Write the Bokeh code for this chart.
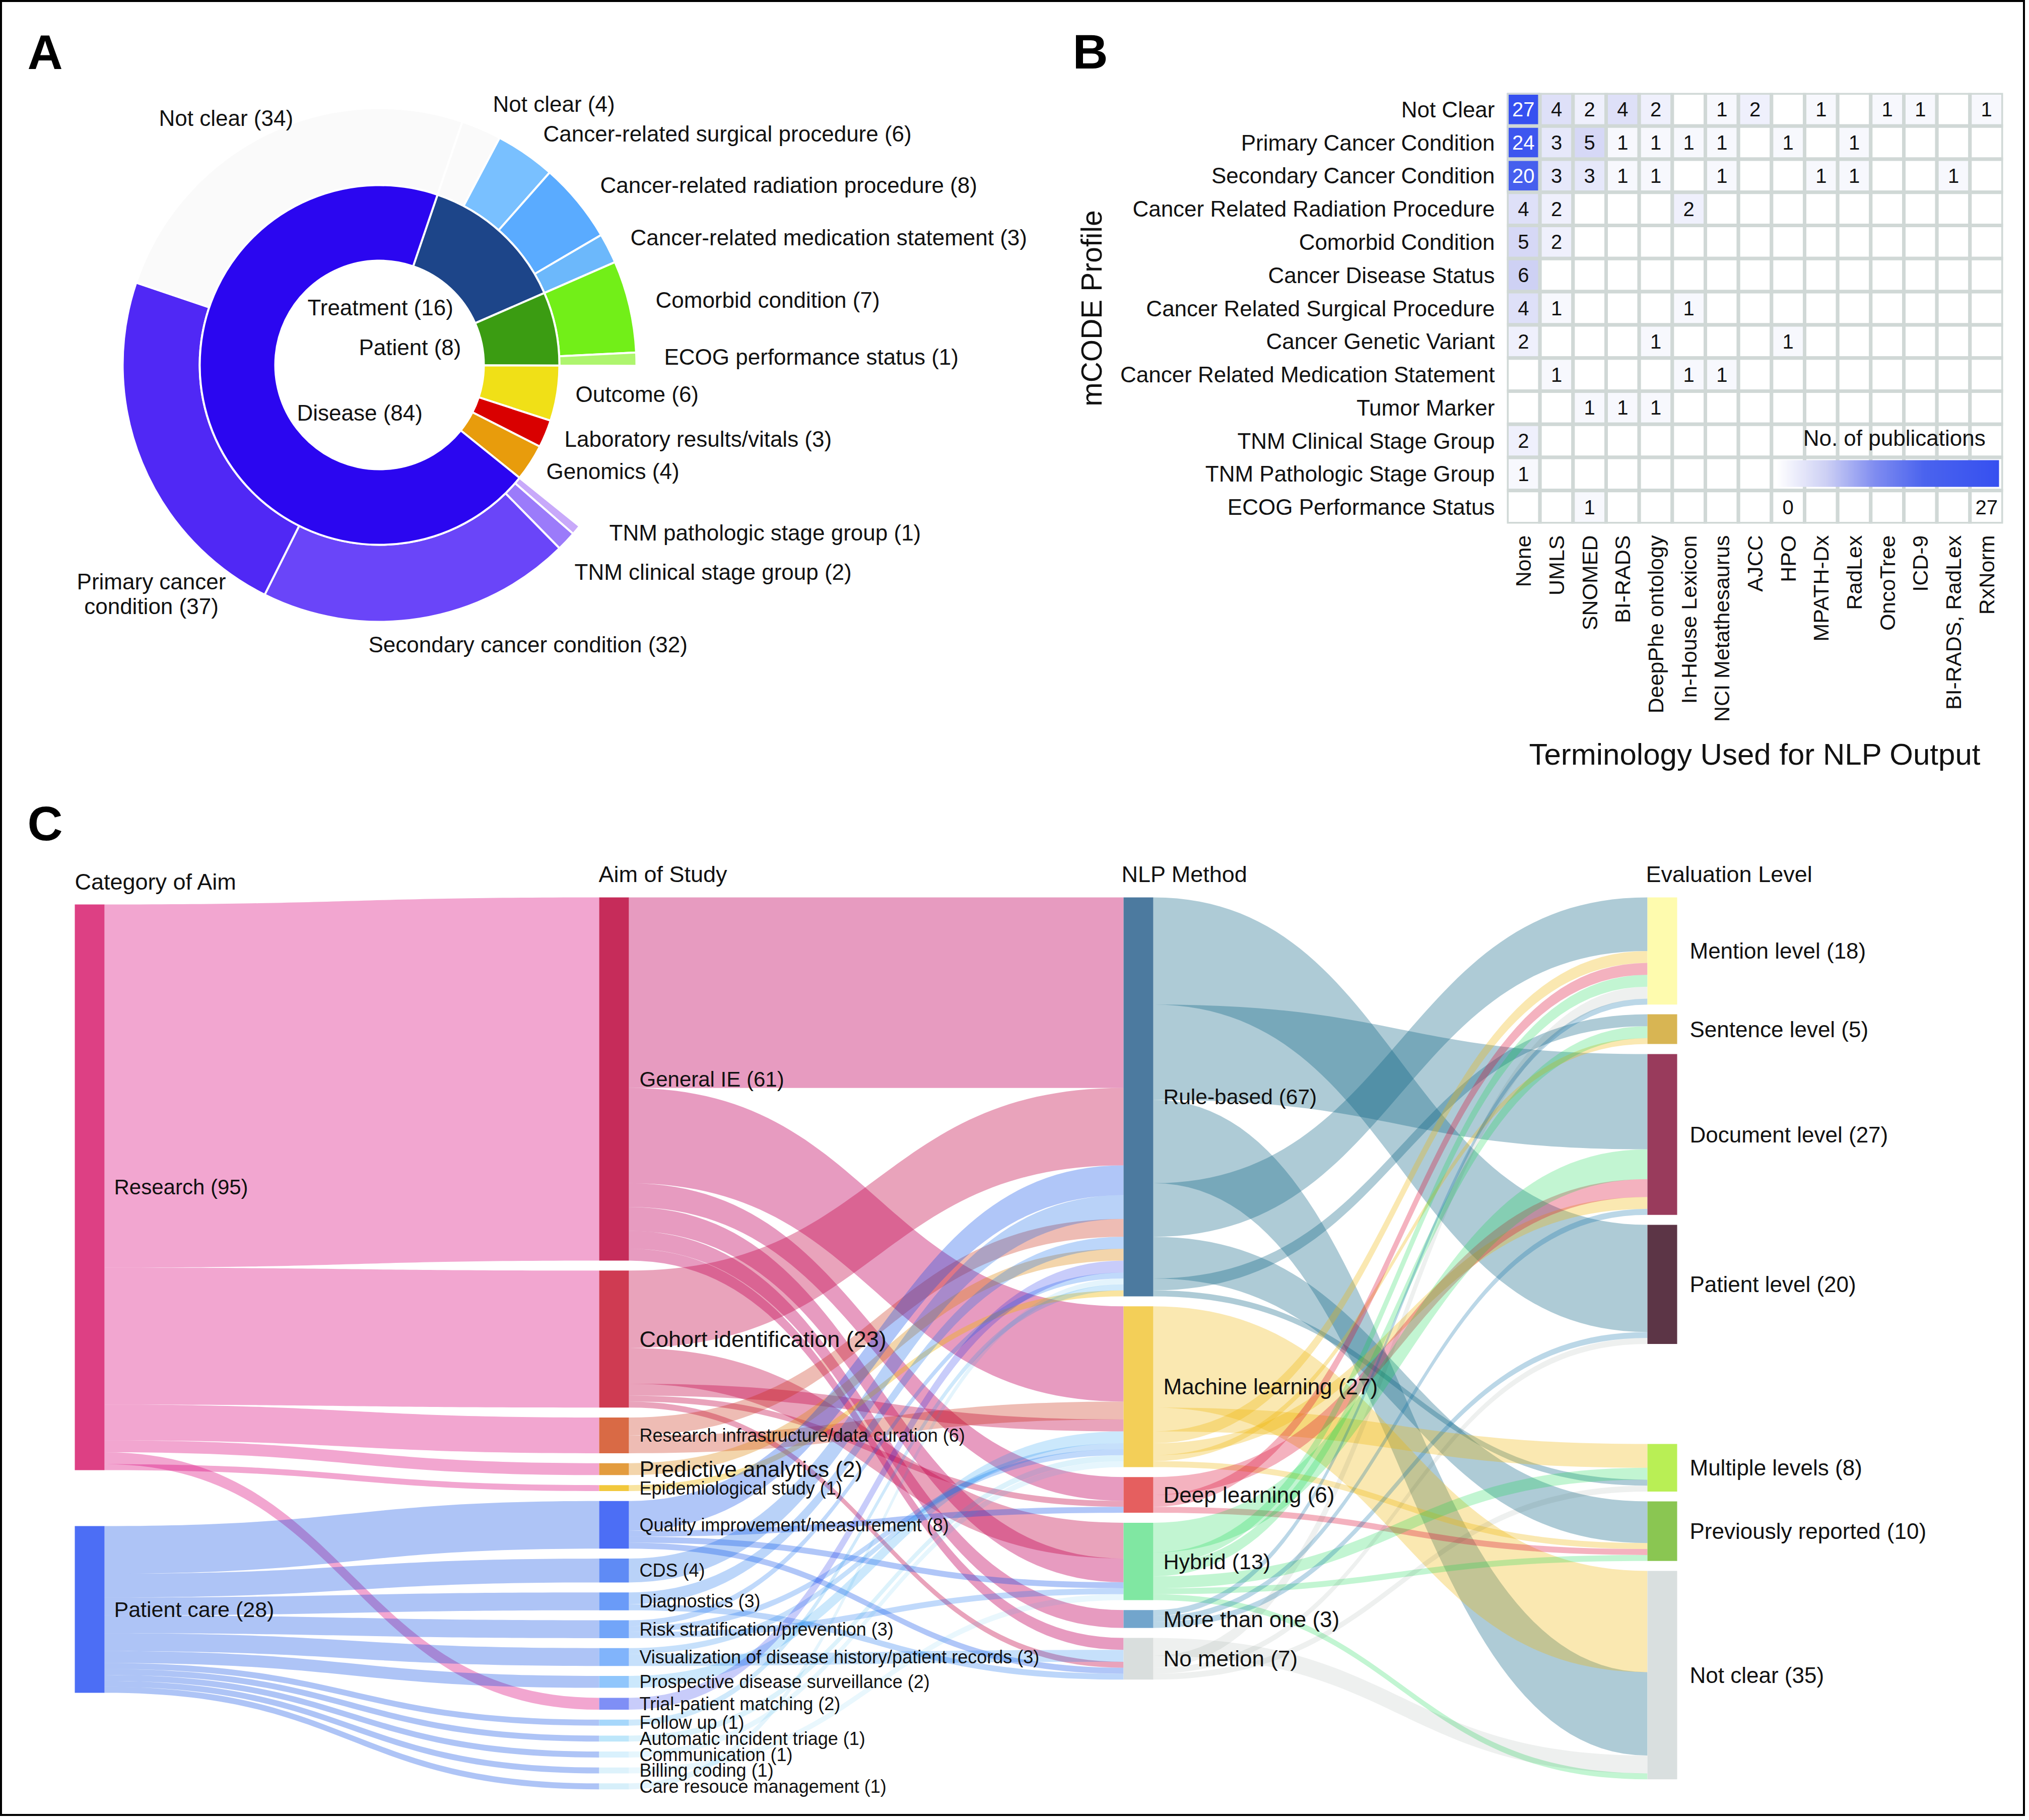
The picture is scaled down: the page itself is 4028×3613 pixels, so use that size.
import math
import numpy as np
from bokeh.plotting import figure
from bokeh.layouts import column, row
from bokeh.models import (ColumnDataSource, Range1d, FactorRange, LinearColorMapper, ColorBar,
                          FixedTicker)
from bokeh.core.properties import value
from bokeh.embed import file_html
from bokeh.resources import INLINE

FONT = "Liberation Sans"

# ---------- Panel A data ----------
inner_names = ["Treatment", "Patient", "Outcome", "Laboratory results/vitals", "Genomics", "Disease"]
inner_values = [16, 8, 6, 3, 4, 84]
inner_colors = ["#1d4589", "#3b9c12", "#f0e017", "#d90000", "#e89c0c", "#2b06f0"]
outer_names = ["Not clear (T)", "Cancer-related surgical procedure", "Cancer-related radiation procedure",
               "Cancer-related medication statement", "Comorbid condition", "ECOG performance status",
               "TNM pathologic stage group", "TNM clinical stage group", "Secondary cancer condition",
               "Primary cancer condition", "Not clear (D)"]
outer_parent = ["Treatment", "Treatment", "Treatment", "Treatment", "Patient", "Patient",
                "Disease", "Disease", "Disease", "Disease", "Disease"]
# share of the parent's arc
outer_values = [4, 6, 8, 3, 7, 1, 1, 2, 32, 37, 40.6]
outer_colors = ["#fafafa", "#79c0ff", "#5aabff", "#6cb8fb", "#72ef18", "#aef56e",
                "#c8a9fa", "#9b7bfa", "#6a45f9", "#5028f5", "#fafafa"]
a_labels = ["Not clear (34)", "Not clear (4)", "Cancer-related surgical procedure (6)",
            "Cancer-related radiation procedure (8)", "Cancer-related medication statement (3)",
            "Comorbid condition (7)", "ECOG performance status (1)", "Outcome (6)",
            "Laboratory results/vitals (3)", "Genomics (4)", "TNM pathologic stage group (1)",
            "TNM clinical stage group (2)", "Secondary cancer condition (32)",
            "Treatment (16)", "Patient (8)", "Disease (84)"]
a_label_x = [315, 978, 1078, 1191, 1251, 1301, 1318, 1142, 1120, 1084, 1209, 1140, 731, 610, 712, 589]
a_label_y = [234, 206, 265, 367, 471, 595, 708, 782, 871, 935, 1057, 1135, 1279, 610, 689, 819]

# ---------- Panel B data ----------
b_rows = ["Not Clear", "Primary Cancer Condition", "Secondary Cancer Condition",
          "Cancer Related Radiation Procedure", "Comorbid Condition", "Cancer Disease Status",
          "Cancer Related Surgical Procedure", "Cancer Genetic Variant",
          "Cancer Related Medication Statement", "Tumor Marker", "TNM Clinical Stage Group",
          "TNM Pathologic Stage Group", "ECOG Performance Status"]
b_cols = ["None", "UMLS", "SNOMED", "BI-RADS", "DeepPhe ontology", "In-House Lexicon", "NCI Metathesaurus",
          "AJCC", "HPO", "MPATH-Dx", "RadLex", "OncoTree", "ICD-9", "BI-RADS, RadLex", "RxNorm"]
b_matrix = [
    [27, 4, 2, 4, 2, 0, 1, 2, 0, 1, 0, 1, 1, 0, 1],
    [24, 3, 5, 1, 1, 1, 1, 0, 1, 0, 1, 0, 0, 0, 0],
    [20, 3, 3, 1, 1, 0, 1, 0, 0, 1, 1, 0, 0, 1, 0],
    [4, 2, 0, 0, 0, 2, 0, 0, 0, 0, 0, 0, 0, 0, 0],
    [5, 2, 0, 0, 0, 0, 0, 0, 0, 0, 0, 0, 0, 0, 0],
    [6, 0, 0, 0, 0, 0, 0, 0, 0, 0, 0, 0, 0, 0, 0],
    [4, 1, 0, 0, 0, 1, 0, 0, 0, 0, 0, 0, 0, 0, 0],
    [2, 0, 0, 0, 1, 0, 0, 0, 1, 0, 0, 0, 0, 0, 0],
    [0, 1, 0, 0, 0, 1, 1, 0, 0, 0, 0, 0, 0, 0, 0],
    [0, 0, 1, 1, 1, 0, 0, 0, 0, 0, 0, 0, 0, 0, 0],
    [2, 0, 0, 0, 0, 0, 0, 0, 0, 0, 0, 0, 0, 0, 0],
    [1, 0, 0, 0, 0, 0, 0, 0, 0, 0, 0, 0, 0, 0, 0],
    [0, 0, 1, 0, 0, 0, 0, 0, 0, 0, 0, 0, 0, 0, 0],
]
scale_stops = [0, 6, 12, 18, 27]
scale_colors = ["#ffffff", "#cdd0f4", "#7f8cf0", "#4a63ee", "#3650f0"]

# ---------- Panel C data ----------
cat_names = ["Research", "Patient care"]
cat_values = [95, 28]
cat_colors = ["#dd4084", "#4c6ef5"]
cat_link_colors = ["#f2a7d0", "#aec4f6"]

aim_names = ["General IE", "Cohort identification", "Research infrastructure/data curation", "Predictive analytics",
             "Epidemiological study", "Quality improvement/measurement", "CDS", "Diagnostics",
             "Risk stratification/prevention", "Visualization of disease history/patient records",
             "Prospective disease surveillance", "Trial-patient matching", "Follow up",
             "Automatic incident triage", "Communication", "Billing coding", "Care resouce management"]
aim_values = [61, 23, 6, 2, 1, 8, 4, 3, 3, 3, 2, 2, 1, 1, 1, 1, 1]
aim_colors = ["#c62c5a", "#cf3b52", "#d96a45", "#e39c3e", "#f2c83c", "#4c6ef5", "#5f8bf5", "#6a9bf8", "#72a5f9",
              "#81b4fb", "#90c6fc", "#7f8ff6", "#a6d7fb", "#bde6fa", "#d9f1fd", "#ddf2fb", "#d6effa"]
aim_link_colors = ["#e79cc0", "#e9a3bb", "#eebcb5", "#f3d5ab", "#f9e4a0", "#b0c6f8", "#b9d2f8", "#bdd6fa", "#c0d9fb",
                   "#c6e0fb", "#cbe8fc", "#c8ccfa", "#cfe9fb", "#dcf2fb", "#e6f6fd", "#e9f7fd", "#e4f4fc"]
aim_font = [42, 45, 36, 44, 36, 36, 36, 36, 36, 36, 36, 36, 36, 36, 36, 36, 36]

method_names = ["Rule-based", "Machine learning", "Deep learning", "Hybrid", "More than one", "No metion"]
method_values = [67, 27, 6, 13, 3, 7]
method_colors = ["#4c7a9f", "#f3cf58", "#e55f5f", "#80e7a2", "#72a5cc", "#d9dedd"]
method_link_colors = ["#aecbd6", "#fae8b1", "#f4b3bf", "#c3f5d2", "#bcd7e7", "#eef0ef"]

eval_names = ["Mention level", "Sentence level", "Document level", "Patient level",
              "Multiple levels", "Previously reported", "Not clear"]
eval_values = [18, 5, 27, 20, 8, 10, 35]
eval_colors = ["#fefbae", "#d8b553", "#993b5c", "#5c3546", "#b9ef55", "#8ac652", "#d9dfdf"]

cat_out = {
    "Research": [("General IE", 61), ("Cohort identification", 23), ("Research infrastructure/data curation", 6),
                 ("Predictive analytics", 2), ("Trial-patient matching", 2), ("Epidemiological study", 1)],
    "Patient care": [("Quality improvement/measurement", 8), ("CDS", 4), ("Diagnostics", 3),
                     ("Risk stratification/prevention", 3), ("Visualization of disease history/patient records", 3),
                     ("Prospective disease surveillance", 2), ("Follow up", 1), ("Automatic incident triage", 1),
                     ("Communication", 1), ("Billing coding", 1), ("Care resouce management", 1)],
}
aim_out = {
    "General IE": [("Rule-based", 32), ("Machine learning", 16), ("Deep learning", 4), ("Hybrid", 4),
                   ("More than one", 3), ("No metion", 2)],
    "Cohort identification": [("Rule-based", 13), ("Hybrid", 6), ("Machine learning", 2), ("Deep learning", 1),
                              ("No metion", 1)],
    "Research infrastructure/data curation": [("Rule-based", 3), ("Machine learning", 3)],
    "Predictive analytics": [("Rule-based", 2)],
    "Epidemiological study": [("Rule-based", 1)],
    "Quality improvement/measurement": [("Rule-based", 5), ("Deep learning", 1), ("Hybrid", 1), ("No metion", 1)],
    "CDS": [("Rule-based", 4)],
    "Diagnostics": [("Rule-based", 2), ("No metion", 1)],
    "Risk stratification/prevention": [("Rule-based", 1), ("Machine learning", 1), ("Hybrid", 1)],
    "Visualization of disease history/patient records": [("Machine learning", 1), ("No metion", 2)],
    "Prospective disease surveillance": [("Machine learning", 2)],
    "Trial-patient matching": [("Rule-based", 2)],
    "Follow up": [("Rule-based", 1)],
    "Automatic incident triage": [("Machine learning", 1)],
    "Communication": [("Machine learning", 1)],
    "Billing coding": [("Hybrid", 1)],
    "Care resouce management": [("Rule-based", 1)],
}
method_in_order = {
    "Rule-based": ["General IE", "Cohort identification", "Quality improvement/measurement", "CDS",
                   "Research infrastructure/data curation", "Diagnostics", "Predictive analytics",
                   "Trial-patient matching", "Risk stratification/prevention", "Care resouce management",
                   "Follow up", "Epidemiological study"],
    "Machine learning": ["General IE", "Research infrastructure/data curation", "Cohort identification",
                         "Prospective disease surveillance", "Visualization of disease history/patient records",
                         "Risk stratification/prevention", "Automatic incident triage", "Communication"],
    "Deep learning": ["General IE", "Cohort identification", "Quality improvement/measurement"],
    "Hybrid": ["Cohort identification", "General IE", "Quality improvement/measurement",
               "Risk stratification/prevention", "Billing coding"],
    "More than one": ["General IE"],
    "No metion": ["General IE", "Visualization of disease history/patient records", "Cohort identification",
                  "Quality improvement/measurement", "Diagnostics"],
}
method_out = {
    "Rule-based": [("Patient level", 18), ("Document level", 16), ("Not clear", 14), ("Mention level", 9),
                   ("Previously reported", 7), ("Sentence level", 2), ("Multiple levels", 1)],
    "Machine learning": [("Not clear", 17), ("Multiple levels", 4), ("Mention level", 2), ("Document level", 2),
                         ("Sentence level", 1), ("Previously reported", 1)],
    "Deep learning": [("Document level", 3), ("Mention level", 2), ("Previously reported", 1)],
    "Hybrid": [("Document level", 5), ("Mention level", 2), ("Sentence level", 2), ("Multiple levels", 2),
               ("Previously reported", 1), ("Not clear", 1)],
    "More than one": [("Mention level", 1), ("Document level", 1), ("Patient level", 1)],
    "No metion": [("Not clear", 3), ("Mention level", 2), ("Patient level", 1), ("Multiple levels", 1)],
}
eval_in_order = {
    "Mention level": ["Rule-based", "Machine learning", "Deep learning", "Hybrid", "No metion", "More than one"],
    "Sentence level": ["Rule-based", "Hybrid", "Machine learning"],
    "Document level": ["Rule-based", "Hybrid", "Deep learning", "Machine learning", "More than one"],
    "Patient level": ["Rule-based", "More than one", "No metion"],
    "Multiple levels": ["Machine learning", "Hybrid", "Rule-based", "No metion"],
    "Previously reported": ["Rule-based", "Machine learning", "Deep learning", "Hybrid"],
    "Not clear": ["Machine learning", "Rule-based", "No metion", "Hybrid"],
}

# ---------- layout constants (reference pixels) ----------
PAGE_L, PAGE_T, PAGE_R, PAGE_B = 4, 4, 4016, 3601
SPLIT_X, SPLIT_Y = 2050, 1560
HEAD_B = 160
CX, CY, R0, R1, R2 = 753, 724, 207, 357, 510
START_DEG = 18.8
GRID_L, GRID_R, GRID_T, GRID_B = 2991, 3976, 184, 1039
UNIT = 11.82
NODE_W = 59
GAP = 19.8
X_CAT, X_AIM, X_METHOD, X_EVAL = 148, 1189, 2230, 3270
TOP_ALL = 1781
CAT_TOPS = [1795, 3029]
EVAL_TOPS = [1781, 2013, 2092, 2431, 2866, 2980, 3118]


def px(size):
    return value(f"{size}px")


def blank(x0, x1, y0, y1, w, h):
    p = figure(width=w, height=h, x_range=Range1d(x0, x1), y_range=Range1d(y0, y1), x_axis_location=None,
               y_axis_location=None, toolbar_location=None, output_backend="svg", min_border=0,
               outline_line_color=None, background_fill_color="white", border_fill_color="white", frame_align=False)
    p.grid.visible = False
    return p


# ---------- Panel A ----------
pa = blank(PAGE_L, SPLIT_X, -SPLIT_Y, -PAGE_T, SPLIT_X - PAGE_L, SPLIT_Y - PAGE_T)
deg_per = 360.0 / sum(inner_values)
spans = {}
angle = START_DEG
i_start, i_end = [], []
for n, v in zip(inner_names, inner_values):
    i_start.append(angle)
    angle += v * deg_per
    i_end.append(angle)
    spans[n] = (i_start[-1], i_end[-1])
o_start, o_end = [], []
for parent in dict.fromkeys(outer_parent):
    idx = [i for i, q in enumerate(outer_parent) if q == parent]
    total = sum(outer_values[i] for i in idx)
    a0, a1 = spans[parent]
    cur = a0
    for i in idx:
        o_start.append(cur)
        cur += outer_values[i] / total * (a1 - a0)
        o_end.append(cur)


def to_rad(d):
    return [math.pi / 2 - math.radians(a) for a in d]


pa.annular_wedge(x=[CX] * len(o_start), y=[-CY] * len(o_start), inner_radius=R1, outer_radius=R2,
                 start_angle=to_rad(o_start), end_angle=to_rad(o_end), direction="clock",
                 fill_color=outer_colors, line_color="white", line_width=4)
pa.annular_wedge(x=[CX] * len(i_start), y=[-CY] * len(i_start), inner_radius=R0, outer_radius=R1,
                 start_angle=to_rad(i_start), end_angle=to_rad(i_end), direction="clock",
                 fill_color=inner_colors, line_color="white", line_width=4)
pa.text(x=a_label_x, y=[-v for v in a_label_y], text=a_labels, text_font=value(FONT), text_font_size=px(44),
        text_baseline="middle", text_align="left", text_color="#111111")
pa.text(x=[300, 300], y=[-1154, -1203], text=["Primary cancer", "condition (37)"], text_font=value(FONT),
        text_font_size=px(44), text_baseline="middle", text_align="center", text_color="#111111")
pa.text(x=[54], y=[-103], text=["A"], text_font=value(FONT), text_font_size=px(97), text_font_style="bold",
        text_baseline="middle", text_align="left", text_color="#000000")

# ---------- Panel B ----------
phead = blank(SPLIT_X, PAGE_R, -HEAD_B, -PAGE_T, PAGE_R - SPLIT_X, HEAD_B - PAGE_T)
phead.text(x=[2164], y=[-102], text=["B"], text_font=value(FONT), text_font_size=px(97), text_font_style="bold",
           text_baseline="middle", text_align="center", text_color="#000000")

stops_rgb = [[int(c[i:i + 2], 16) for i in (1, 3, 5)] for c in scale_colors]
levels = np.linspace(0, 27, 256)
palette = ["#%02x%02x%02x" % tuple(int(round(np.interp(l, scale_stops, [s[k] for s in stops_rgb]))) for k in range(3))
           for l in levels]
mapper = LinearColorMapper(palette=palette, low=0, high=27)

cell_x, cell_y, cell_n = [], [], []
for r, vals in zip(b_rows, b_matrix):
    for c, v in zip(b_cols, vals):
        cell_x.append(c)
        cell_y.append(r)
        cell_n.append(v)
src = ColumnDataSource(dict(x=cell_x, y=cell_y, n=cell_n))

pb = figure(width=PAGE_R - SPLIT_X, height=SPLIT_Y - HEAD_B, x_range=FactorRange(factors=b_cols),
            y_range=FactorRange(factors=list(reversed(b_rows))), toolbar_location=None, output_backend="svg",
            min_border_left=GRID_L - SPLIT_X, min_border_right=PAGE_R - GRID_R, min_border_top=GRID_T - HEAD_B,
            min_border_bottom=SPLIT_Y - GRID_B, outline_line_color=None, border_fill_color="white", frame_align=False)
pb.grid.visible = False
pb.rect(x="x", y="y", width=1, height=1, source=src, fill_color={"field": "n", "transform": mapper},
        line_color="#d0d8d6", line_width=7)
nz = [i for i, v in enumerate(cell_n) if v > 0]
pb.text(x=[cell_x[i] for i in nz], y=[cell_y[i] for i in nz], text=[str(cell_n[i]) for i in nz],
        text_color=["white" if cell_n[i] >= 20 else "#111111" for i in nz], text_font=value(FONT),
        text_font_size=px(40), text_align="center", text_baseline="middle")
for ax in (pb.xaxis[0], pb.yaxis[0]):
    ax.axis_line_color = None
    ax.major_tick_line_color = None
    ax.minor_tick_line_color = None
    ax.major_label_text_font = FONT
    ax.major_label_text_font_size = "44px"
    ax.major_label_text_color = "#111111"
    ax.axis_label_text_font = FONT
    ax.axis_label_text_font_style = "normal"
    ax.axis_label_text_color = "#111111"
pb.xaxis[0].major_label_orientation = math.pi / 2
pb.xaxis[0].major_label_text_font_size = "43px"
pb.xaxis[0].major_label_standoff = 17
pb.yaxis[0].major_label_standoff = 18
pb.xaxis[0].axis_label = "Terminology Used for NLP Output"
pb.xaxis[0].axis_label_text_font_size = "60px"
pb.xaxis[0].axis_label_standoff = 28
pb.yaxis[0].axis_label = "mCODE Profile"
pb.yaxis[0].axis_label_text_font_size = "57px"
pb.yaxis[0].axis_label_standoff = 22

cbar = ColorBar(color_mapper=mapper, orientation="horizontal", location=(535, 73), width=442, height=53, padding=0,
                ticker=FixedTicker(ticks=[]), major_tick_line_color=None, minor_tick_line_color=None,
                bar_line_color=None, border_line_color=None, background_fill_alpha=0, major_label_text_alpha=0)
pb.add_layout(cbar)
pb.text(x=["HPO", "RxNorm"], y=["ECOG Performance Status"] * 2, text=["0", "27"], text_font=value(FONT),
        text_font_size=px(40), text_align="center", text_baseline="middle", text_color="#111111")
pb.text(x=["OncoTree"], y=["TNM Clinical Stage Group"], x_offset=14, y_offset=-6, text=["No. of publications"],
        text_font=value(FONT), text_font_size=px(44), text_align="center", text_baseline="middle",
        text_color="#111111")

# ---------- Panel C ----------
pc = blank(PAGE_L, PAGE_R, PAGE_B, SPLIT_Y, PAGE_R - PAGE_L, PAGE_B - SPLIT_Y)


def tops_stacked(values):
    y, out = TOP_ALL, []
    for v in values:
        out.append(y)
        y += v * UNIT + GAP
    return out


aim_tops = tops_stacked(aim_values)
method_tops = tops_stacked(method_values)
node_top = {}
node_top.update(dict(zip(["c:" + n for n in cat_names], CAT_TOPS)))
node_top.update(dict(zip(["a:" + n for n in aim_names], aim_tops)))
node_top.update(dict(zip(["m:" + n for n in method_names], method_tops)))
node_top.update(dict(zip(["e:" + n for n in eval_names], EVAL_TOPS)))


def translucent(disp):
    """Colour and alpha that give `disp` on white and darken overlaps like a multiply blend."""
    rgb = [int(disp[i:i + 2], 16) for i in (1, 3, 5)]
    a = 1 - min(rgb) / 255 + 0.01
    base = [max(0, min(255, int(round((c - 255 * (1 - a)) / a)))) for c in rgb]
    return "#%02x%02x%02x" % tuple(base), a


def ribbon(x0, x1, ya, yb, h):
    t = np.linspace(0, 1, 61)
    xm = (x0 + x1) / 2
    xs = (1 - t) ** 3 * x0 + 3 * (1 - t) ** 2 * t * xm + 3 * (1 - t) * t ** 2 * xm + t ** 3 * x1
    ys = ya + (yb - ya) * (3 * t ** 2 - 2 * t ** 3)
    return list(xs) + list(xs[::-1]), list(ys) + list((ys + h)[::-1])


def stage(out, in_order, src_prefix, tgt_prefix, x0, x1, color_of):
    xs_all, ys_all, cols, alphas = [], [], [], []
    tgt_off = {}
    for t, order in in_order.items():
        y = node_top[tgt_prefix + t]
        for s in order:
            v = dict(out[s])[t]
            tgt_off[(s, t)] = y
            y += v * UNIT
    for s, items in out.items():
        y = node_top[src_prefix + s]
        for t, v in items:
            h = v * UNIT
            xs, ys = ribbon(x0, x1, y, tgt_off[(s, t)], h)
            xs_all.append(xs)
            ys_all.append(ys)
            c, a = translucent(color_of[s])
            cols.append(c)
            alphas.append(a)
            y += h
    pc.patches(xs_all, ys_all, fill_color=cols, fill_alpha=alphas, line_color=None)


cat_in = {n: [] for n in aim_names}
for s, items in cat_out.items():
    for t, v in items:
        cat_in[t].append(s)

stage(cat_out, cat_in, "c:", "a:", X_CAT + NODE_W, X_AIM, dict(zip(cat_names, cat_link_colors)))
stage(aim_out, method_in_order, "a:", "m:", X_AIM + NODE_W, X_METHOD, dict(zip(aim_names, aim_link_colors)))
stage(method_out, eval_in_order, "m:", "e:", X_METHOD + NODE_W, X_EVAL, dict(zip(method_names, method_link_colors)))


def nodes(names, values_, tops, colors, x, label_dx, sizes):
    h = [v * UNIT for v in values_]
    pc.quad(left=[x] * len(names), right=[x + NODE_W] * len(names), top=tops, bottom=[t + d for t, d in zip(tops, h)],
            fill_color=colors, line_color=None)
    src_ = ColumnDataSource(dict(x=[x + NODE_W + label_dx] * len(names), y=[t + d / 2 for t, d in zip(tops, h)],
                                 t=[f"{n} ({v})" for n, v in zip(names, values_)], s=[f"{s}px" for s in sizes]))
    pc.text(x="x", y="y", text="t", source=src_, text_font=value(FONT), text_font_size="s", text_baseline="middle",
            text_align="left", text_color="#111111")


nodes(cat_names, cat_values, CAT_TOPS, cat_colors, X_CAT, 19, [42, 43])
nodes(aim_names, aim_values, aim_tops, aim_colors, X_AIM, 21, aim_font)
nodes(method_names, method_values, method_tops, method_colors, X_METHOD, 20, [42.5, 44, 44, 43, 44, 44])
nodes(eval_names, eval_values, EVAL_TOPS, eval_colors, X_EVAL, 25, [44] * 7)

pc.text(x=[X_CAT, X_AIM - 1, X_METHOD - 4, X_EVAL - 3], y=[1750, 1735, 1735, 1735],
        text=["Category of Aim", "Aim of Study", "NLP Method", "Evaluation Level"], text_font=value(FONT),
        text_font_size=px(45), text_baseline="middle", text_align="left", text_color="#111111")
pc.text(x=[54], y=[1634], text=["C"], text_font=value(FONT), text_font_size=px(97), text_font_style="bold",
        text_baseline="middle", text_align="left", text_color="#000000")

page = column(row(pa, column(phead, pb, spacing=0), spacing=0), pc, spacing=0,
              styles={"border": "4px solid #000000", "box-sizing": "content-box"})
open("out.html", "w").write(file_html(page, INLINE))
